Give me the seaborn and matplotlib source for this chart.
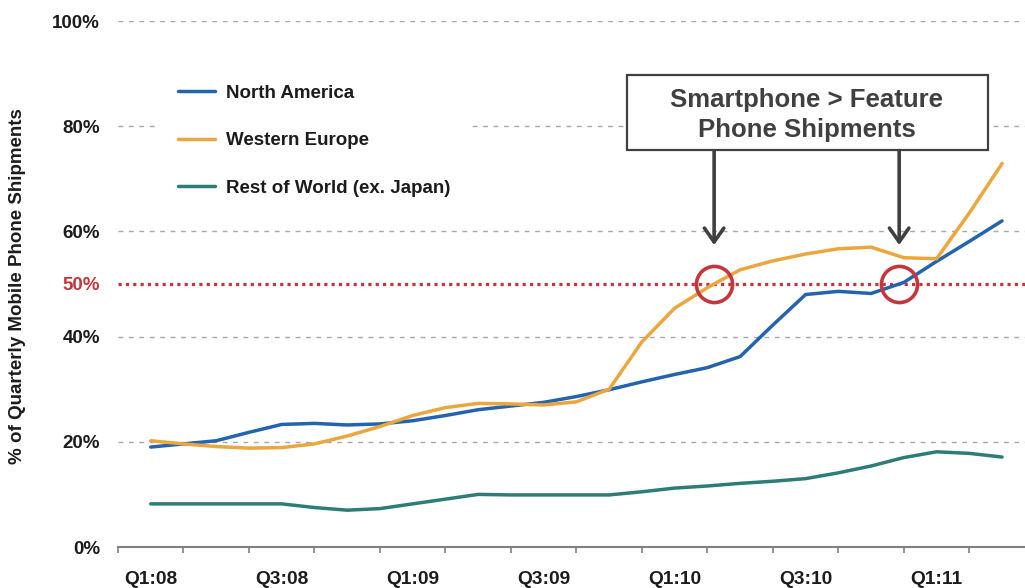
import numpy as np
import pandas as pd
import matplotlib
matplotlib.use("Agg")
import matplotlib.pyplot as plt
import seaborn as sns
from matplotlib.patches import Rectangle

# Quarters on the category axis (one slot each)
quarters = ["Q1:08", "Q2:08", "Q3:08", "Q4:08", "Q1:09", "Q2:09", "Q3:09",
            "Q4:09", "Q1:10", "Q2:10", "Q3:10", "Q4:10", "Q1:11", "Q2:11"]

# Smartphone share of quarterly shipments (%), two readings per quarter
north_america = [19.0, 19.6, 20.2, 21.8, 23.3, 23.5, 23.2, 23.4, 24.0, 25.0,
                 26.1, 26.8, 27.5, 28.6, 29.9, 31.4, 32.8, 34.1, 36.2, 42.2,
                 48.0, 48.6, 48.2, 50.3, 54.3, 58.1, 62.0]
western_europe = [20.2, 19.6, 19.1, 18.8, 18.9, 19.6, 21.1, 22.9, 25.0, 26.5,
                  27.3, 27.2, 27.0, 27.6, 30.0, 39.0, 45.4, 49.3, 52.7, 54.4,
                  55.7, 56.7, 57.0, 55.0, 54.8, 63.5, 72.9]
rest_of_world = [8.2, 8.2, 8.2, 8.2, 8.2, 7.5, 7.0, 7.3, 8.2, 9.1,
                 10.0, 9.9, 9.9, 9.9, 9.9, 10.5, 11.2, 11.6, 12.1, 12.5,
                 13.0, 14.1, 15.4, 17.0, 18.1, 17.8, 17.1]

regions = ["North America", "Western Europe", "Rest of World (ex. Japan)"]
colors = ["#2463ad", "#eba63d", "#2e7c77"]

y_ticks = [0, 20, 40, 50, 60, 80, 100]
threshold = 50
callout = "Smartphone > Feature\nPhone Shipments"
y_title = "% of Quarterly Mobile Phone Shipments"

sns.set_theme(style="white")
plt.rcParams["font.family"] = ["Liberation Sans", "DejaVu Sans"]
plt.rcParams["font.weight"] = "bold"

RED = "#c4363b"
INK = "#1c1c1c"
DARK = "#404040"

n = len(north_america)
period = np.arange(n) / 2.0
df = pd.DataFrame({
    "period": np.tile(period, 3),
    "share": north_america + western_europe + rest_of_world,
    "region": np.repeat(regions, n),
})

W, H = 1025, 588
fig = plt.figure(figsize=(W / 100, H / 100), dpi=100)
ax = fig.add_axes([118 / W, 1 - 547 / H, 1 - 118 / W, 526 / H])

# dashed horizontal guides
for yv in [20, 40, 60, 80, 100]:
    ax.axhline(yv, color="#a8a8a8", lw=1.0, ls=(0, (3.5, 4)), zorder=1)
# dotted 50% threshold
ax.axhline(threshold, color=RED, lw=2.3, ls=(0, (1, 1.3)), zorder=1.5,
           dash_capstyle="butt")

sns.lineplot(data=df, x="period", y="share", hue="region", hue_order=regions,
             palette=dict(zip(regions, colors)), linewidth=2.5,
             errorbar=None, ax=ax, zorder=3,
             solid_joinstyle="round", solid_capstyle="round")


def crossing(vals, level):
    v = np.asarray(vals, dtype=float)
    i = int(np.argmax(v >= level))
    frac = (level - v[i - 1]) / (v[i] - v[i - 1])
    return period[i - 1] + frac * (period[i] - period[i - 1])


xs = [crossing(western_europe, threshold), crossing(north_america, threshold)]
ax.plot(xs, [threshold] * 2, ls="none", marker="o", ms=26, mfc="none",
        mec=RED, mew=2.6, zorder=4)

# call-out box with arrows down to the crossings
box_bottom = (547 - 150) / 526
for xc in xs:
    ax.annotate("", xy=(xc, threshold), xycoords="data",
                xytext=(xc, box_bottom), textcoords=("data", "axes fraction"),
                arrowprops=dict(arrowstyle="->,head_length=0.5,head_width=0.35",
                                color=DARK, lw=2.6, shrinkA=0, shrinkB=28,
                                mutation_scale=20),
                zorder=5)
fig.patches.append(Rectangle((627 / W, 1 - 150 / H), 361 / W, 75 / H,
                             transform=fig.transFigure, facecolor="white",
                             edgecolor=DARK, lw=1.6, zorder=6))
fig.text(807 / W, 1 - 115 / H, callout, ha="center", va="center",
         fontsize=18.5, weight="bold", color=DARK, linespacing=1.27, zorder=7)

# axes formatting
ax.set_xlim(-0.5, 13.35)
ax.set_ylim(0, 100)
ax.set_xticks(np.arange(-0.5, len(quarters) - 0.5, 1.0))
ax.set_xticklabels([])
ax.set_xticks(np.arange(0, len(quarters), 2), minor=True)
ax.set_xticklabels(quarters[::2], minor=True)
ax.tick_params(axis="x", which="major", bottom=True, direction="out",
               length=4.5, width=1.2, color="#808080")
ax.tick_params(axis="x", which="minor", bottom=True, length=0, pad=17,
               labelsize=13.8, labelcolor=INK)
ax.set_yticks(y_ticks)
ax.set_yticklabels([f"{v}%" for v in y_ticks])
ax.tick_params(axis="y", length=0, pad=13, labelsize=13.5, labelcolor=INK)
for lab, v in zip(ax.get_yticklabels(), y_ticks):
    lab.set_fontweight("bold")
    if v == threshold:
        lab.set_color(RED)
for lab in ax.get_xticklabels(minor=True):
    lab.set_fontweight("bold")
ax.set_xlabel("")
ax.set_ylabel("")
for side in ["left", "top", "right"]:
    ax.spines[side].set_visible(False)
ax.spines["bottom"].set_color("#808080")
ax.spines["bottom"].set_linewidth(1.5)

fig.text(18 / W, 1 - 286 / H, y_title, rotation=90, ha="center", va="center",
         fontsize=13.5, weight="bold", color=INK)

handles, labels = ax.get_legend_handles_labels()
leg = ax.legend(handles, labels, loc="upper left",
                bbox_to_anchor=(159 / W, 1 - 66 / H),
                bbox_transform=fig.transFigure, frameon=True, fancybox=False,
                facecolor="white", edgecolor="none", framealpha=1,
                fontsize=13.5, handlelength=2.0, handletextpad=0.55,
                labelspacing=1.62, borderpad=1.0, borderaxespad=0)
for t in leg.get_texts():
    t.set_color(INK)
    t.set_fontweight("bold")
for h in leg.get_lines():
    h.set_linewidth(2.5)

fig.savefig("out.png", dpi=100)
